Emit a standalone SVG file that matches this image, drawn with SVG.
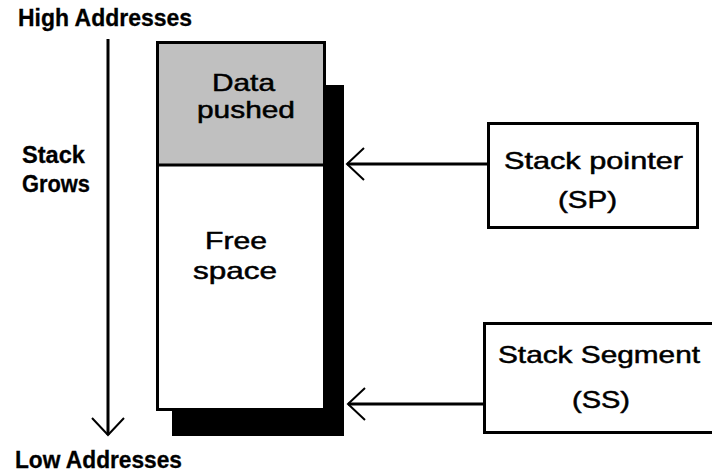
<svg xmlns="http://www.w3.org/2000/svg" width="712" height="473" viewBox="0 0 712 473">
<style>
.lbl{font-family:"Liberation Sans",Arial,sans-serif;font-size:24px;fill:#000;stroke:#000;stroke-width:0.5}
.b{font-weight:bold;stroke-width:0.3}
.box{fill:#fff;stroke:#000;stroke-width:3}
.conn{stroke:#000;stroke-width:3;fill:none}
</style>
<defs>
<marker id="chev" viewBox="-20 -20 24 40" markerWidth="24" markerHeight="40" refX="0" refY="0" orient="auto" markerUnits="userSpaceOnUse">
<path d="M-17,-16 L0,0 L-17,16" fill="none" stroke="#000" stroke-width="2"/>
</marker>
</defs>
<rect width="712" height="473" fill="#fff"/>
<g id="labels">
<text class="lbl b" x="18" y="26" font-size="21" textLength="174" lengthAdjust="spacingAndGlyphs">High Addresses</text>
<text class="lbl b" x="15" y="468" font-size="20" textLength="167" lengthAdjust="spacingAndGlyphs">Low Addresses</text>
<text class="lbl b" x="22" y="163" font-size="24" textLength="63" lengthAdjust="spacingAndGlyphs">Stack</text>
<text class="lbl b" x="22" y="192" font-size="24" textLength="68" lengthAdjust="spacingAndGlyphs">Grows</text>
</g>
<g id="stack">
<rect x="172" y="85" width="172" height="351" fill="#000"/>
<rect class="box" x="157.5" y="42.5" width="167" height="367"/>
<rect x="159" y="44" width="164" height="121" fill="#c0c0c0"/>
<line x1="157.5" y1="165" x2="324.5" y2="165" stroke="#000" stroke-width="3"/>
<text class="lbl" x="212" y="91" textLength="63" lengthAdjust="spacingAndGlyphs">Data</text>
<text class="lbl" x="197" y="118" textLength="98" lengthAdjust="spacingAndGlyphs">pushed</text>
<text class="lbl" x="205" y="249" textLength="62" lengthAdjust="spacingAndGlyphs">Free</text>
<text class="lbl" x="193" y="279" textLength="84" lengthAdjust="spacingAndGlyphs">space</text>
</g>
<g id="sp">
<rect class="box" x="488.5" y="123.5" width="209" height="104"/>
<text class="lbl" x="504" y="169" textLength="179" lengthAdjust="spacingAndGlyphs">Stack pointer</text>
<text class="lbl" x="558" y="208" textLength="59" lengthAdjust="spacingAndGlyphs">(SP)</text>
</g>
<g id="ss">
<rect class="box" x="484.5" y="323.5" width="240" height="109"/>
<text class="lbl" x="498" y="363" textLength="202" lengthAdjust="spacingAndGlyphs">Stack Segment</text>
<text class="lbl" x="572" y="408" textLength="58" lengthAdjust="spacingAndGlyphs">(SS)</text>
</g>
<g id="connectors">
<line class="conn" x1="108" y1="39" x2="108" y2="435" marker-end="url(#chev)"/>
<line class="conn" x1="487" y1="164" x2="347" y2="164" marker-end="url(#chev)"/>
<line class="conn" x1="483" y1="404" x2="348" y2="404" marker-end="url(#chev)"/>
</g>
</svg>
